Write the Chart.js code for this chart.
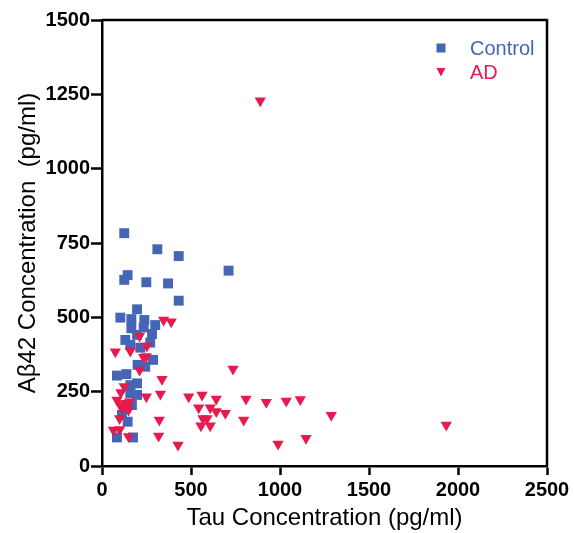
<!DOCTYPE html>
<html>
<head>
<meta charset="utf-8">
<script src="https://cdn.jsdelivr.net/npm/chart.js@4"></script>
<style>
  html, body { margin: 0; padding: 0; background: #fff; }
  #wrap { width: 574px; height: 533px; }
</style>
</head>
<body>
<div id="wrap"><canvas id="scatter"></canvas></div>
<script>
// values (Tau pg/ml, Abeta42 pg/ml)
const controlTau = [125, 311, 431, 711, 144, 125, 249, 371, 431, 197, 103, 165, 238, 165, 234, 299, 281, 197,
  131, 271, 159, 215, 287, 243, 200, 84, 137, 197, 159, 159, 197, 168, 112, 144, 84, 174];
const controlAb42 = [783, 729, 706, 657, 642, 626, 618, 614, 556, 527, 499, 494, 491, 463, 466, 474, 444, 441,
  424, 415, 407, 398, 357, 334, 340, 304, 309, 278, 272, 245, 239, 205, 172, 149, 96, 96];

const adTau = [889, 346, 389, 211, 75, 159, 252, 234, 249, 211, 337, 736, 125, 106, 249, 328, 487, 562, 642, 809,
  84, 155, 103, 131, 112, 149, 543, 608, 642, 693, 567, 590, 556, 608, 796, 99, 322, 64, 99, 149, 318, 427,
  923, 1035, 1114, 1288, 1146, 1934, 989];
const adAb42 = [1228, 491, 485, 437, 384, 387, 404, 366, 368, 323, 292, 326, 267, 247, 233, 242, 233, 239, 225, 225,
  222, 216, 205, 211, 194, 188, 196, 196, 183, 177, 160, 160, 135, 135, 155, 160, 155, 121, 123, 99, 101, 71,
  214, 219, 224, 171, 93, 138, 74];

const xTicks = [0, 500, 1000, 1500, 2000, 2500];
const yTicks = [0, 250, 500, 750, 1000, 1250, 1500];

const BLUE = '#4565b6';
const RED = '#e8194c';
const FONT = "Arial, 'Liberation Sans', sans-serif";

const toPoints = (xs, ys) => xs.map((x, i) => ({ x: x, y: ys[i] }));

// box around the plot + legend inside top-right corner
const framePlugin = {
  id: 'frame',
  afterDatasetsDraw(chart) {
    const { ctx, chartArea: a } = chart;
    ctx.save();
    ctx.strokeStyle = '#000';
    ctx.lineWidth = 2.5;
    ctx.beginPath();
    ctx.moveTo(a.left, a.top);
    ctx.lineTo(a.right, a.top);
    ctx.lineTo(a.right, a.bottom);
    ctx.stroke();

    const mx = a.right - 106;
    const tx = a.right - 77;
    ctx.font = '20px ' + FONT;
    ctx.textBaseline = 'alphabetic';
    ctx.textAlign = 'left';
    chart.data.datasets.forEach(ds => {
      const row = ds.label === 'Control' ? 0 : 1;
      const cy = a.top + 28 + row * 24;
      ctx.fillStyle = ds.backgroundColor;
      ctx.beginPath();
      if (ds.pointStyle === 'rect') {
        ctx.rect(mx - 4.5, cy - 4.5, 9, 9);
      } else {
        ctx.moveTo(mx - 4.5, cy - 4);
        ctx.lineTo(mx + 4.5, cy - 4);
        ctx.lineTo(mx, cy + 4.5);
        ctx.closePath();
      }
      ctx.fill();
      ctx.fillText(ds.label, tx, cy + 7);
    });
    ctx.restore();
  }
};

new Chart(document.getElementById('scatter'), {
  type: 'scatter',
  data: {
    datasets: [
      {
        label: 'Control',
        data: toPoints(controlTau, controlAb42),
        pointStyle: 'rect',
        pointRadius: 7,
        pointHoverRadius: 7,
        borderWidth: 0,
        backgroundColor: BLUE,
        borderColor: BLUE,
        order: 1
      },
      {
        label: 'AD',
        data: toPoints(adTau, adAb42),
        pointStyle: 'triangle',
        rotation: 180,
        pointRadius: 6.5,
        pointHoverRadius: 6.5,
        borderWidth: 0,
        backgroundColor: RED,
        borderColor: RED,
        order: 0
      }
    ]
  },
  options: {
    responsive: true,
    maintainAspectRatio: false,
    animation: false,
    layout: { padding: { top: 20, right: 27, left: 0, bottom: 0 } },
    plugins: {
      legend: { display: false },
      tooltip: { enabled: false }
    },
    scales: {
      x: {
        type: 'linear',
        min: 0,
        max: 2500,
        afterFit: s => { s.height = 67; },
        afterBuildTicks: s => { s.ticks = xTicks.map(v => ({ value: v })); },
        border: { display: true, color: '#000', width: 2.5 },
        grid: { drawOnChartArea: false, drawTicks: true, tickLength: 9, tickWidth: 2.5, tickColor: '#000' },
        ticks: {
          color: '#000', padding: 3, maxRotation: 0,
          callback: v => String(v),
          font: { family: FONT, size: 20, weight: 'bold' }
        },
        title: {
          display: true,
          text: 'Tau Concentration (pg/ml)',
          color: '#000',
          padding: { top: 0, bottom: 0 },
          font: { family: FONT, size: 24 }
        }
      },
      y: {
        type: 'linear',
        min: 0,
        max: 1500,
        afterFit: s => { s.width = 102; },
        afterBuildTicks: s => { s.ticks = yTicks.map(v => ({ value: v })); },
        border: { display: true, color: '#000', width: 2.5 },
        grid: { drawOnChartArea: false, drawTicks: true, tickLength: 11, tickWidth: 2.5, tickColor: '#000' },
        ticks: {
          color: '#000', padding: 1,
          callback: v => String(v),
          font: { family: FONT, size: 20, weight: 'bold' }
        },
        title: {
          display: true,
          text: 'Aβ42 Concentration  (pg/ml)',
          color: '#000',
          padding: { top: 14, bottom: 0 },
          font: { family: FONT, size: 24 }
        }
      }
    }
  },
  plugins: [framePlugin]
});
</script>
</body>
</html>
